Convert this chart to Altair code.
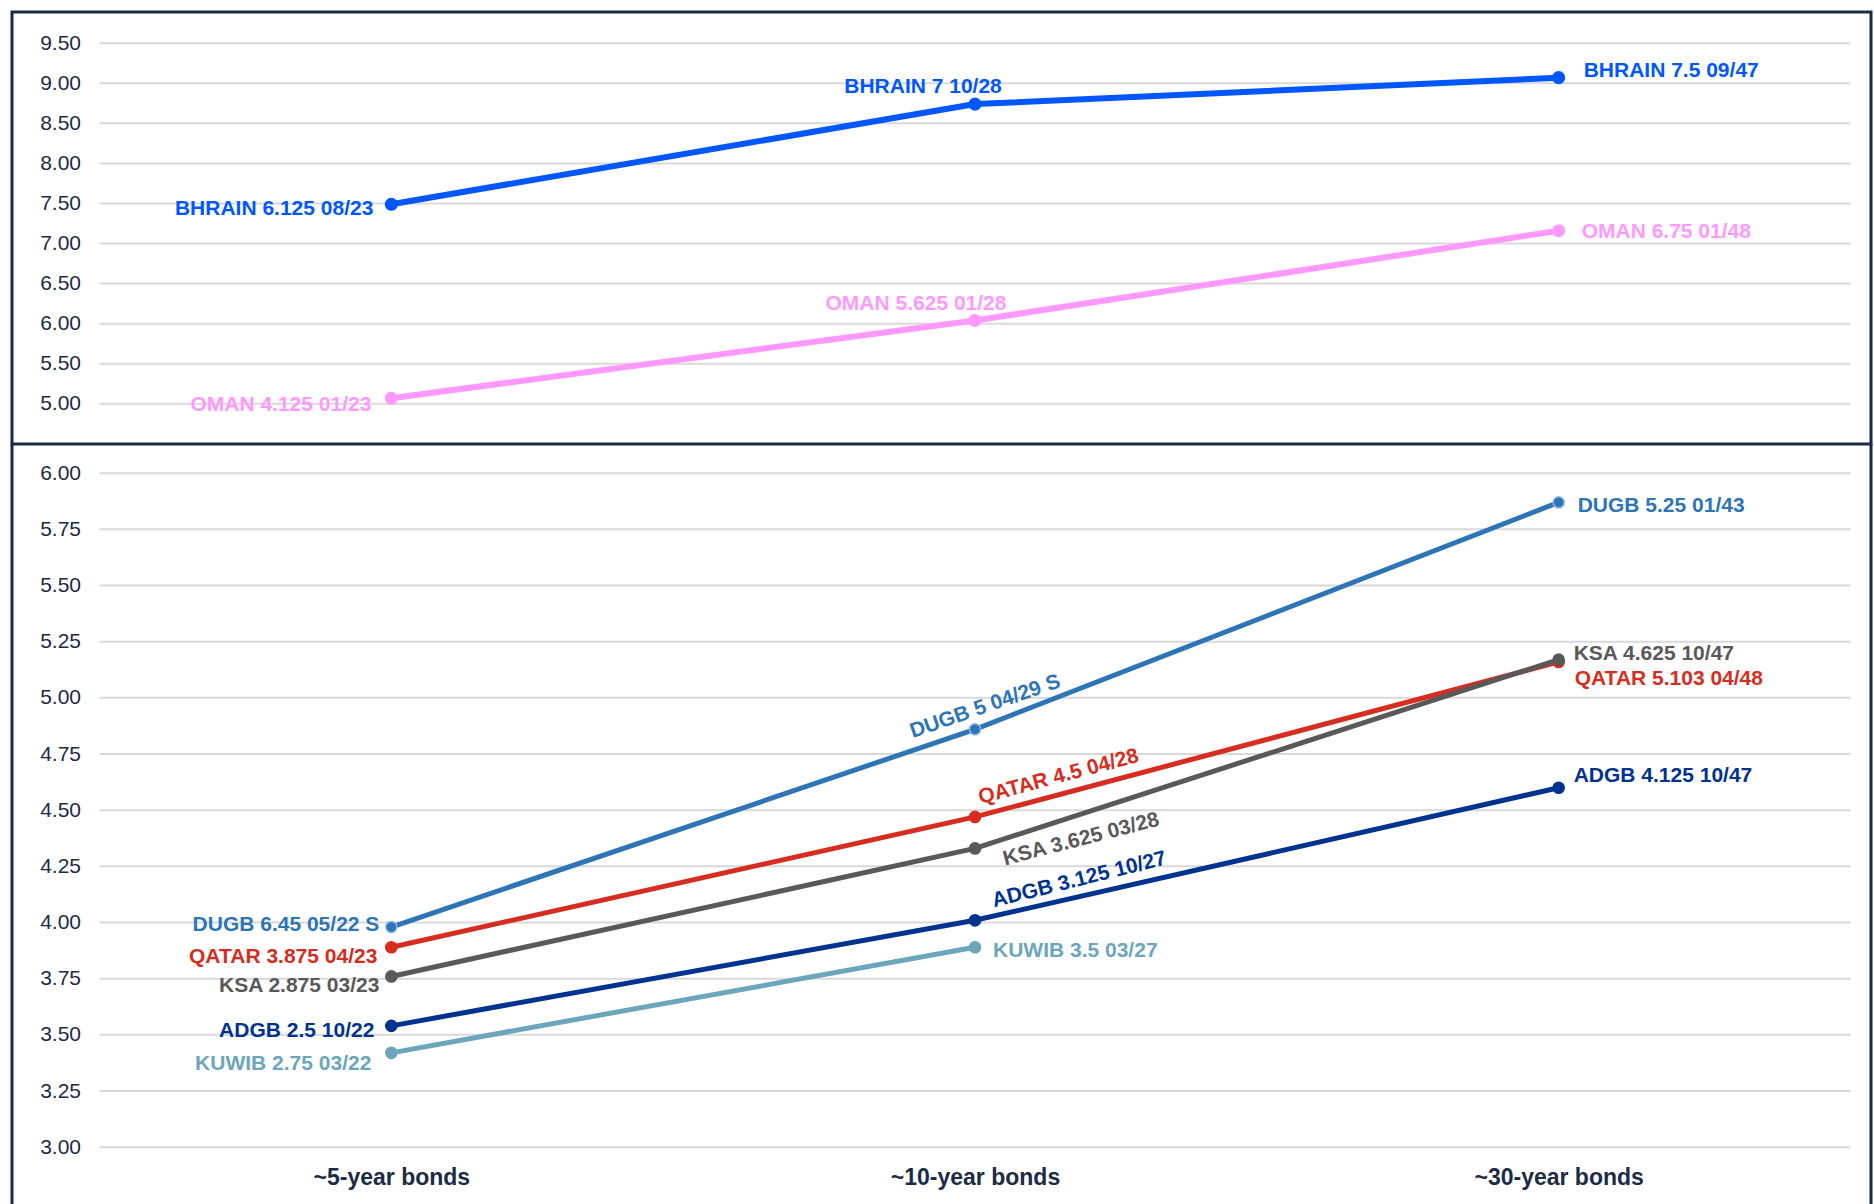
import altair as alt
import pandas as pd

# ---------------- data ----------------
categories = ["~5-year bonds", "~10-year bonds", "~30-year bonds"]

# upper panel
top_series = ["BHRAIN", "OMAN"]
bhrain_yield = [7.49, 8.74, 9.07]
oman_yield = [5.07, 6.04, 7.16]
bhrain_label = ["BHRAIN 6.125 08/23", "BHRAIN 7 10/28", "BHRAIN 7.5 09/47"]
oman_label = ["OMAN 4.125 01/23", "OMAN 5.625 01/28", "OMAN 6.75 01/48"]
top_ticks = [5.0, 5.5, 6.0, 6.5, 7.0, 7.5, 8.0, 8.5, 9.0, 9.5]

# lower panel
bottom_series = ["DUGB", "QATAR", "KSA", "ADGB", "KUWIB"]
dugb_yield = [3.98, 4.86, 5.87]
qatar_yield = [3.89, 4.47, 5.16]
ksa_yield = [3.76, 4.33, 5.17]
adgb_yield = [3.54, 4.01, 4.60]
kuwib_yield = [3.42, 3.89, None]
dugb_label = ["DUGB 6.45 05/22 S", "DUGB 5 04/29 S", "DUGB 5.25 01/43"]
qatar_label = ["QATAR 3.875 04/23", "QATAR 4.5 04/28", "QATAR 5.103 04/48"]
ksa_label = ["KSA 2.875 03/23", "KSA 3.625 03/28", "KSA 4.625 10/47"]
adgb_label = ["ADGB 2.5 10/22", "ADGB 3.125 10/27", "ADGB 4.125 10/47"]
kuwib_label = ["KUWIB 2.75 03/22", "KUWIB 3.5 03/27", None]
bottom_ticks = [3.0, 3.25, 3.5, 3.75, 4.0, 4.25, 4.5, 4.75, 5.0, 5.25, 5.5, 5.75, 6.0]

# ---------------- styles ----------------
FONT = "Liberation Sans"
BORDER = "#1B2B47"
TEXT = "#1C2B45"
GRID = "#D9D9D9"
colors = {
    "BHRAIN": "#0057FF", "OMAN": "#FF99FF",
    "DUGB": "#2E75B6", "QATAR": "#D62D20", "KSA": "#595959",
    "ADGB": "#00338F", "KUWIB": "#6CA6BC",
}
ring = {"DUGB": "#8FB9E3"}
# label placement: align, dx, dy, angle
placement = {
    "BHRAIN 6.125 08/23": ("right", -18, 5, 0),
    "BHRAIN 7 10/28": ("center", -52, -17, 0),
    "BHRAIN 7.5 09/47": ("left", 25, -7, 0),
    "OMAN 4.125 01/23": ("right", -20, 7, 0),
    "OMAN 5.625 01/28": ("center", -59, -16, 0),
    "OMAN 6.75 01/48": ("left", 23, 1, 0),
    "DUGB 6.45 05/22 S": ("right", -12, -2, 0),
    "QATAR 3.875 04/23": ("right", -14, 10, 0),
    "KSA 2.875 03/23": ("right", -12, 10, 0),
    "ADGB 2.5 10/22": ("right", -17, 5, 0),
    "KUWIB 2.75 03/22": ("right", -20, 11, 0),
    "DUGB 5 04/29 S": ("center", 17, -18, 341),
    "QATAR 4.5 04/28": ("center", 91, -17, 345),
    "KSA 3.625 03/28": ("center", 105, 18, 345.5),
    "ADGB 3.125 10/27": ("center", 111, -14, 346),
    "KUWIB 3.5 03/27": ("left", 18, 4, 0),
    "DUGB 5.25 01/43": ("left", 19, 4, 0),
    "KSA 4.625 10/47": ("left", 15, -6, 0),
    "QATAR 5.103 04/48": ("left", 16, 17, 0),
    "ADGB 4.125 10/47": ("left", 15, -12, 0),
}

W = 1859
X0, X1 = 87.5, 1838.5


def table(series, yields, labels):
    rows = []
    for s, ys, ls in zip(series, yields, labels):
        for i, (c, v, t) in enumerate(zip(categories, ys, ls)):
            if v is None:
                continue
            rows.append({"series": s, "cat": c, "idx": i, "value": v, "text": t})
    return pd.DataFrame(rows)


def panel(df, series, ticks, ydomain, yrange, height, lw, psize, show_x):
    xscale = alt.Scale(domain=categories, range=[X0, X1], padding=0.5)
    yscale = alt.Scale(domain=ydomain, range=yrange, nice=False, zero=False)
    if show_x:
        xaxis = alt.Axis(title=None, orient="bottom", offset=yrange[0] - height,
                         domain=False, ticks=False, tickSize=0, grid=False,
                         labelAngle=0, labelAlign="center",
                         labelPadding=30, labelBaseline="middle",
                         labelFont=FONT, labelFontSize=23, labelFontWeight="bold",
                         labelColor=TEXT)
    else:
        xaxis = None
    yaxis = alt.Axis(title=None, values=ticks, format=".2f", offset=-X0,
                     domain=False, ticks=False, tickSize=0, grid=False,
                     labelPadding=19, labelFont=FONT, labelFontSize=21,
                     labelColor=TEXT)
    xenc = alt.X("cat:N", scale=xscale, axis=xaxis, title=None)
    yenc = alt.Y("value:Q", scale=yscale, axis=yaxis, title=None)
    cscale = alt.Scale(domain=series, range=[colors[s] for s in series])
    sscale = alt.Scale(domain=series, range=[ring.get(s, colors[s]) for s in series])

    grid = alt.Chart(pd.DataFrame({"value": ticks})).mark_rule(
        color=GRID, strokeWidth=2).encode(y=yenc, x=alt.value(X0), x2=alt.value(X1))
    lines = alt.Chart(df).mark_line(strokeWidth=lw).encode(
        x=xenc, y=yenc, order="idx:Q",
        color=alt.Color("series:N", scale=cscale, legend=None))
    points = alt.Chart(df).mark_point(filled=True, size=psize, opacity=1, strokeWidth=1.5).encode(
        x=xenc, y=yenc,
        color=alt.Color("series:N", scale=cscale, legend=None),
        stroke=alt.Stroke("series:N", scale=sscale, legend=None))
    layers = [grid, lines, points]
    for _, r in df.iterrows():
        align, dx, dy, angle = placement[r["text"]]
        lab = alt.Chart(df).transform_filter(alt.datum.text == r["text"]).mark_text(
            align=align, baseline="middle", dx=dx, dy=dy, angle=angle,
            font=FONT, fontSize=21, fontWeight="bold", color=colors[r["series"]]
        ).encode(x=xenc, y=yenc, text="text:N")
        layers.append(lab)
    return layers


top_df = table(top_series, [bhrain_yield, oman_yield], [bhrain_label, oman_label])
bot_df = table(bottom_series,
               [dugb_yield, qatar_yield, ksa_yield, adgb_yield, kuwib_yield],
               [dugb_label, qatar_label, ksa_label, adgb_label, kuwib_label])

TOP_H = 432
BOT_H = 760

top = alt.layer(*panel(top_df, top_series, top_ticks, [5.0, 9.5], [391.8, 31.2],
                       TOP_H, 6, 135, False)).properties(
    width=W, height=TOP_H,
    view=alt.ViewBackground(stroke=BORDER, strokeWidth=3, fill="white"))

edge_l = alt.Chart(alt.Data(values=[{}])).mark_rule(color=BORDER, strokeWidth=3).encode(
    x=alt.value(0), y=alt.value(0), y2=alt.value(BOT_H))
edge_r = alt.Chart(alt.Data(values=[{}])).mark_rule(color=BORDER, strokeWidth=3).encode(
    x=alt.value(W), y=alt.value(0), y2=alt.value(BOT_H))

bottom = alt.layer(*panel(bot_df, bottom_series, bottom_ticks, [3.0, 6.0], [703.2, 29.2],
                          BOT_H, 5, 125, True), edge_l, edge_r).properties(
    width=W, height=BOT_H)

chart = alt.vconcat(top, bottom, spacing=0, bounds="flush").resolve_scale(
    x="independent", y="independent", color="independent", stroke="independent"
).properties(
    padding={"left": 10, "top": 10, "right": 0, "bottom": 0},
    background="white",
).configure_view(stroke=None)

chart.save("out.html", embed_options={"renderer": "svg", "actions": False})
